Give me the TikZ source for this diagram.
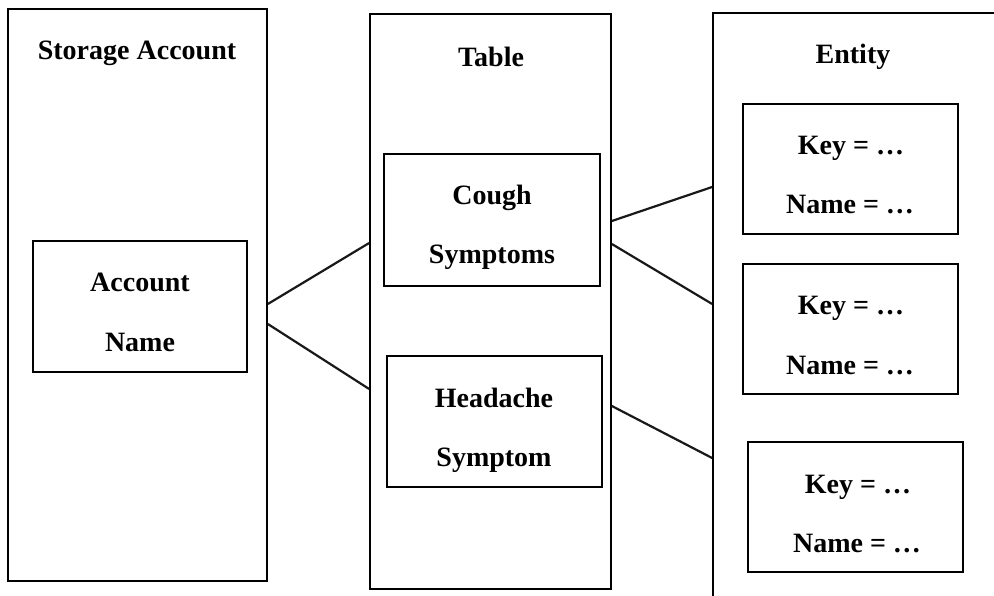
\documentclass[tikz,border=0pt]{standalone}
\usepackage{fontspec}
\setmainfont{Liberation Serif}
\begin{document}
\begin{tikzpicture}[x=1pt,y=-1pt,
  panel/.style={draw=black, line width=1.7pt, rectangle, inner sep=0pt},
  item/.style={draw=black, line width=1.6pt, rectangle, inner sep=0pt},
  lbl/.style={anchor=base, inner sep=0pt, font=\fontsize{28}{33}\selectfont\bfseries},
  conn/.style={draw=black!90, line width=2.2pt}]
\useasboundingbox (0,0) rectangle (994,596);
\fill[white] (0,0) rectangle (994,596);
\begin{scope}
\clip (0,0) rectangle (994,596);
% panels
\node[panel, minimum width=259pt, minimum height=572pt] (sa) at (137.5,295) {};
\node[panel, minimum width=241pt, minimum height=575pt] (tb) at (490.5,301.5) {};
\node[panel, minimum width=320pt, minimum height=620pt] (en) at (873,323) {};
% inner boxes
\node[item, minimum width=214pt, minimum height=131pt] (acc) at (140,306.5) {};
\node[item, minimum width=216pt, minimum height=132pt] (cough) at (492,220) {};
\node[item, minimum width=215pt, minimum height=131pt] (head) at (494.5,421.5) {};
\node[item, minimum width=215pt, minimum height=130pt] (e1) at (850.5,169) {};
\node[item, minimum width=215pt, minimum height=130pt] (e2) at (850.5,329) {};
\node[item, minimum width=215pt, minimum height=130pt] (e3) at (855.5,507) {};
\end{scope}
% titles
\node[lbl] (tsa) at (137,60) {Storage Account};
\node[lbl] (ttb) at (491,67) {Table};
\node[lbl] (ten) at (853,64) {Entity};
% labels
\node[lbl] (l1) at (140,292) {Account};
\node[lbl] (l2) at (140,351) {Name};
\node[lbl] (l3) at (492,205) {Cough};
\node[lbl] (l4) at (492,264) {Symptoms};
\node[lbl] (l5) at (494,407) {Headache};
\node[lbl] (l6) at (494,466) {Symptom};
\node[lbl] (k1) at (851,155) {Key = …};
\node[lbl] (n1) at (850,214) {Name = …};
\node[lbl] (k2) at (851,315) {Key = …};
\node[lbl] (n2) at (850,374) {Name = …};
\node[lbl] (k3) at (858,493) {Key = …};
\node[lbl] (n3) at (857,552) {Name = …};
% connectors
\draw[conn] (sa.east |- 0,304) -- (tb.west |- 0,243);
\draw[conn] (sa.east |- 0,324) -- (tb.west |- 0,389);
\draw[conn] (tb.east |- 0,221) -- (en.west |- 0,187);
\draw[conn] (tb.east |- 0,244) -- (en.west |- 0,304);
\draw[conn] (tb.east |- 0,406) -- (en.west |- 0,458);
\end{tikzpicture}
\end{document}
